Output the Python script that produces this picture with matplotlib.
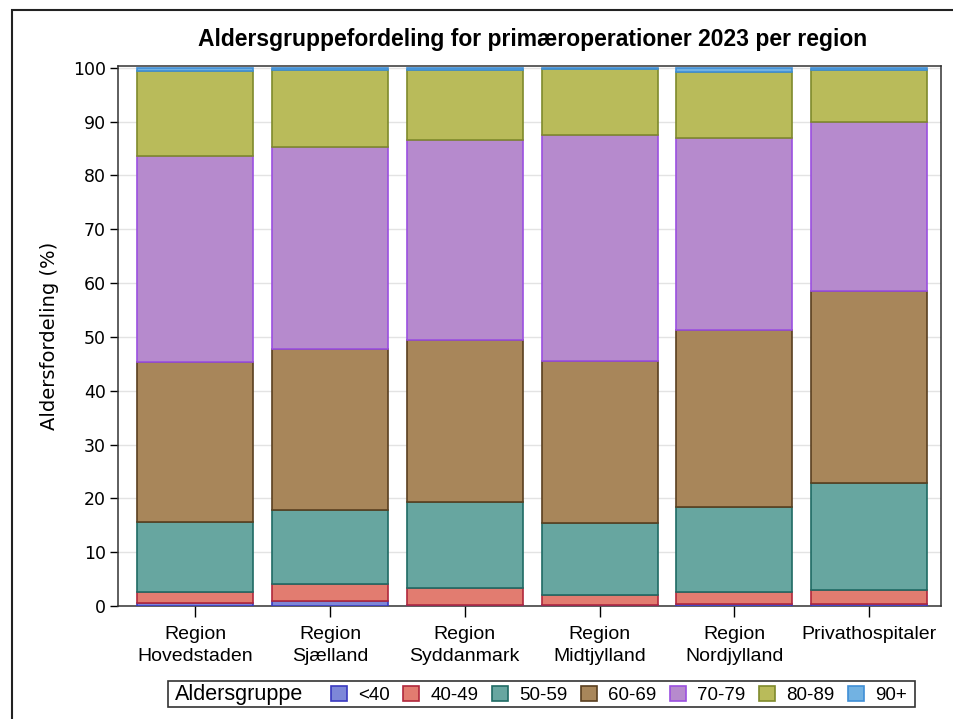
import numpy as np
import matplotlib.pyplot as plt
from matplotlib.patches import Patch, Rectangle

regions = ['Region\nHovedstaden', 'Region\nSjælland', 'Region\nSyddanmark',
           'Region\nMidtjylland', 'Region\nNordjylland', 'Privathospitaler']
groups = ['<40', '40-49', '50-59', '60-69', '70-79', '80-89', '90+']

# percent share per age group, one list per group (regions in order)
under_40 = [0.6, 0.9, 0.3, 0.3, 0.4, 0.4]
age_40_49 = [2.0, 3.2, 3.0, 1.7, 2.2, 2.6]
age_50_59 = [13.0, 13.8, 16.1, 13.4, 15.9, 19.8]
age_60_69 = [29.8, 29.8, 30.0, 30.2, 32.8, 35.7]
age_70_79 = [38.2, 37.6, 37.1, 42.0, 35.7, 31.5]
age_80_89 = [15.8, 14.3, 13.0, 12.1, 12.3, 9.6]
age_90_plus = [0.6, 0.4, 0.5, 0.3, 0.7, 0.4]

values = [under_40, age_40_49, age_50_59, age_60_69,
          age_70_79, age_80_89, age_90_plus]
fills = ['#7d87d8', '#e27c70', '#67a6a0', '#a8865a',
         '#b68acd', '#b9bb5a', '#72b2e2']
edges = ['#3a3ac0', '#b0283c', '#1f6b64', '#5a4020',
         '#9b50e0', '#7f8a2c', '#3f8fd6']

narrow = ['Liberation Sans', 'DejaVu Sans']

fig = plt.figure(figsize=(9.54, 7.19), dpi=100)
ax = fig.add_axes([0.124, 0.157, 0.862, 0.751])

x = np.arange(len(regions))
bottom = np.zeros(len(regions))
for vals, fc, ec in zip(values, fills, edges):
    ax.bar(x, vals, bottom=bottom, width=0.86, color=fc,
           edgecolor=ec, linewidth=1.2, zorder=3)
    bottom += np.array(vals)

ax.set_xlim(-0.57, 5.53)
ax.set_ylim(0, 100.3)
ax.set_yticks(np.arange(0, 101, 10))
ax.yaxis.grid(True, color='#e3e3e3', linewidth=1, zorder=0)
ax.set_xticks(x)
ax.set_xticklabels(regions, family=narrow, fontsize=14, va='top',
                   linespacing=1.45)
ax.tick_params(axis='x', length=8, width=1, pad=6)
ax.tick_params(axis='y', length=6, width=1, labelsize=12.5, pad=3)
for s in ax.spines.values():
    s.set_linewidth(1.1)
    s.set_color('#333333')
ax.set_ylabel('Aldersfordeling (%)', fontsize=14, labelpad=10)

fig.text(0.558, 0.945, 'Aldersgruppefordeling for primæroperationer 2023 per region',
         ha='center', va='center', fontsize=16.5, fontweight='bold',
         family=narrow)

# legend with inline title
handles = [Patch(facecolor=fc, edgecolor=ec, linewidth=1.2)
           for fc, ec in zip(fills, edges)]
fig.patches.append(Rectangle((0.176, 0.016), 0.783, 0.037,
                             transform=fig.transFigure, fill=False,
                             edgecolor='#333333', linewidth=1.2))
fig.text(0.183, 0.034, 'Aldersgruppe', ha='left', va='center',
         fontsize=15.5, family=narrow)
fig.legend(handles, groups, loc='center left', bbox_to_anchor=(0.347, 0.034),
           ncol=7, frameon=False, handlelength=0.85, handleheight=0.85,
           handletextpad=0.6, columnspacing=0.72, borderpad=0,
           borderaxespad=0, prop={'family': narrow, 'size': 13.5})

# outer frame
fig.patches.append(Rectangle((0.0126, -0.01), 1.0, 0.996,
                             transform=fig.transFigure, fill=False,
                             edgecolor='#222222', linewidth=1.5))

fig.savefig('out.png', dpi=100)
